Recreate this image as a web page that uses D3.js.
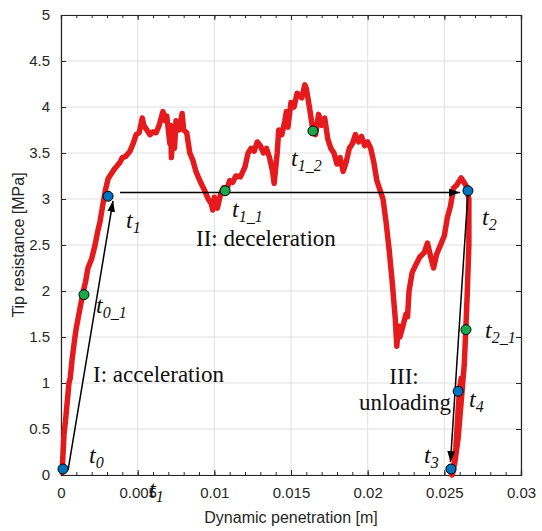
<!DOCTYPE html>
<html>
<head>
<meta charset="utf-8">
<script src="https://d3js.org/d3.v7.min.js"></script>
<style>
  body { margin: 0; background: #fff; }
  svg { display: block; }
  .tick text { font-family: Arial, "Liberation Sans", sans-serif; font-size: 15px; fill: #262626; }
  .tick line { stroke: #262626; }
  .domain { stroke: #262626; }
  .lbl { font-family: "Times New Roman", "Liberation Serif", serif; fill: #111; }
</style>
</head>
<body>
<div id="chart"></div>
<script>
// tip resistance record
const penetration = [
  0.00007, 0.0002, 0.0003, 0.00052, 0.0006, 0.00072, 0.00091, 0.001, 0.00117, 0.00143,
  0.0016, 0.00176, 0.002, 0.00222, 0.0024, 0.00254, 0.00274, 0.0029, 0.00307, 0.0033,
  0.0035, 0.00385, 0.004, 0.0042, 0.0045, 0.0047, 0.0049, 0.0051, 0.0053, 0.0054,
  0.0056, 0.0058, 0.006, 0.0062, 0.0064, 0.00665, 0.0068, 0.0069, 0.0071, 0.00715,
  0.0072, 0.0073, 0.0074, 0.0075, 0.0077, 0.0079, 0.008, 0.0082, 0.0084, 0.0086,
  0.0088, 0.009, 0.0092, 0.0094, 0.0096, 0.0098, 0.0099, 0.01, 0.0102, 0.0104,
  0.0106, 0.0108, 0.011, 0.0112, 0.0114, 0.0117, 0.012, 0.0122, 0.0124, 0.0126,
  0.0128, 0.013, 0.0132, 0.0134, 0.0136, 0.0138, 0.0139, 0.0141, 0.0142, 0.0144,
  0.0146, 0.0147, 0.0148, 0.015, 0.0152, 0.0154, 0.0157, 0.0159, 0.016, 0.0162,
  0.0164, 0.0166, 0.0168, 0.017, 0.0172, 0.0174, 0.0176, 0.0178, 0.018, 0.0182,
  0.0184, 0.0186, 0.0188, 0.019, 0.0192, 0.0194, 0.0196, 0.0198, 0.02, 0.0202,
  0.0204, 0.0206, 0.0208, 0.021, 0.0212, 0.0214, 0.0216, 0.0218, 0.0219, 0.022,
  0.0221, 0.0223, 0.0225, 0.0226, 0.0227, 0.0229, 0.0231, 0.0234, 0.0237, 0.0239,
  0.0241, 0.0243, 0.0245, 0.0247, 0.025, 0.0252, 0.0254, 0.0256, 0.0258, 0.0261,
  0.0264, 0.0266, 0.0266, 0.0265, 0.0264, 0.0263, 0.0261, 0.0259, 0.0257, 0.02555,
  0.0255, 0.0256, 0.02575, 0.0259, 0.026, 0.0261, 0.0262
];
const resistance = [
  0.03, 0.45, 0.6, 1.0, 1.05, 1.25, 1.5, 1.6, 1.75, 1.98,
  2.1, 2.25, 2.35, 2.5, 2.65, 2.75, 2.95, 3.1, 3.22, 3.28,
  3.33, 3.4, 3.45, 3.46, 3.52, 3.6, 3.7, 3.72, 3.88, 3.8,
  3.75, 3.7, 3.73, 3.72, 3.8, 3.95, 3.85, 3.9, 3.6, 3.8,
  3.45, 3.75, 3.55, 3.85, 3.75, 3.93, 3.75, 3.72, 3.5, 3.42,
  3.3, 3.22, 3.15, 3.08, 3.0, 2.95, 2.88, 3.02, 2.9, 3.05,
  3.12, 3.1, 3.2, 3.18, 3.25, 3.24, 3.35, 3.5, 3.55, 3.52,
  3.62, 3.58, 3.5, 3.55, 3.45, 3.3, 3.17, 3.5, 3.75, 3.7,
  3.85, 3.95, 3.78, 4.05, 4.0, 4.15, 4.1, 4.24, 4.2, 4.0,
  3.78, 3.7, 3.92, 3.8, 3.88, 3.65, 3.55, 3.5, 3.38, 3.45,
  3.3, 3.4, 3.55, 3.6, 3.7, 3.62, 3.68, 3.58, 3.62, 3.55,
  3.4, 3.2, 3.1, 3.0, 2.75, 2.45, 2.1, 1.7, 1.4, 1.62,
  1.5, 1.62, 1.75, 1.72, 2.0, 2.2, 2.27, 2.37, 2.42, 2.52,
  2.38, 2.25, 2.4, 2.48, 2.6, 2.8, 2.92, 3.12, 3.15, 3.23,
  3.15, 3.0, 2.5, 2.0, 1.58, 1.2, 0.8, 0.4, 0.15, 0.03,
  0.0, 0.05, 0.3, 0.7, 0.95, 1.05, 1.02
];

// characteristic instants
const eventNames = ["t0", "t0_1", "t1", "t1_1", "t1_2", "t2", "t2_1", "t4", "t3"];
const eventX = [0.00013, 0.0015, 0.00307, 0.0107, 0.01643, 0.02654, 0.02641, 0.0259, 0.02543];
const eventY = [0.065, 1.96, 3.03, 3.09, 3.74, 3.09, 1.58, 0.91, 0.065];
const eventKind = ["main", "sub", "main", "sub", "sub", "main", "sub", "main", "main"];

// phase arrows [x1, y1, x2, y2]
const arrows = [
  [0.00046, 0.054, 0.00339, 2.98],
  [0.00385, 3.07, 0.02602, 3.07],
  [0.02654, 3.07, 0.0254, 0.14]
];

const xTicks = [0, 0.005, 0.01, 0.015, 0.02, 0.025, 0.03];
const xTickLabels = ["0", "0.005", "0.01", "0.015", "0.02", "0.025", "0.03"];
const yTicks = [0, 0.5, 1, 1.5, 2, 2.5, 3, 3.5, 4, 4.5, 5];
const yTickLabels = ["0", "0.5", "1", "1.5", "2", "2.5", "3", "3.5", "4", "4.5", "5"];

const W = 542, H = 531;
const m = { left: 61, right: 21, top: 15, bottom: 56 };

const svg = d3.select("#chart").append("svg")
  .attr("width", W).attr("height", H);

const x = d3.scaleLinear().domain([0, 0.03]).range([m.left, W - m.right]);
const y = d3.scaleLinear().domain([0, 5]).range([H - m.bottom, m.top]);
const xMinor = d3.range(0, 31).map(i => i * 0.001);

// grid
svg.append("g").selectAll("line").data(xTicks).enter().append("line")
  .attr("x1", d => x(d)).attr("x2", d => x(d))
  .attr("y1", y(0)).attr("y2", y(5))
  .attr("stroke", "#dfdfdf").attr("stroke-width", 1);
svg.append("g").selectAll("line").data(yTicks).enter().append("line")
  .attr("x1", x(0)).attr("x2", x(0.03))
  .attr("y1", d => y(d)).attr("y2", d => y(d))
  .attr("stroke", "#dfdfdf").attr("stroke-width", 1);

// axes, MATLAB style: ticks inside, box on
const fmtX = d => xTickLabels[xTicks.indexOf(d)];
const fmtY = d => yTickLabels[yTicks.indexOf(d)];

svg.append("g").attr("transform", `translate(0,${y(0)})`)
  .call(d3.axisBottom(x).tickValues(xMinor).tickSize(-3).tickFormat(""));
svg.append("g").attr("transform", `translate(0,${y(0)})`)
  .call(d3.axisBottom(x).tickValues(xTicks).tickSize(-5).tickPadding(12).tickFormat(fmtX));
svg.append("g").attr("transform", `translate(0,${y(5)})`)
  .call(d3.axisTop(x).tickValues(xMinor).tickSize(-3).tickFormat(""));
svg.append("g").attr("transform", `translate(0,${y(5)})`)
  .call(d3.axisTop(x).tickValues(xTicks).tickSize(-5).tickFormat(""));
svg.append("g").attr("transform", `translate(${x(0)},0)`)
  .call(d3.axisLeft(y).tickValues(yTicks).tickSize(-5).tickPadding(11).tickFormat(fmtY));
svg.append("g").attr("transform", `translate(${x(0.03)},0)`)
  .call(d3.axisRight(y).tickValues(yTicks).tickSize(-5).tickFormat(""));

svg.selectAll(".domain").attr("stroke-width", 1.2);

// axis titles
svg.append("text")
  .attr("x", (x(0) + x(0.03)) / 2).attr("y", 523)
  .attr("text-anchor", "middle")
  .style("font-family", "Arial, 'Liberation Sans', sans-serif")
  .style("font-size", "16px").style("fill", "#262626")
  .text("Dynamic penetration [m]");
svg.append("text")
  .attr("transform", `translate(24,${(y(0) + y(5)) / 2}) rotate(-90)`)
  .attr("text-anchor", "middle")
  .style("font-family", "Arial, 'Liberation Sans', sans-serif")
  .style("font-size", "16px").style("fill", "#262626")
  .text("Tip resistance [MPa]");

// the measured curve
const pts = penetration.map((p, i) => [p, resistance[i]]);
svg.append("path")
  .datum(pts)
  .attr("fill", "none")
  .attr("stroke", "#e41a1c")
  .attr("stroke-width", 5.5)
  .attr("stroke-linejoin", "round")
  .attr("stroke-linecap", "round")
  .attr("d", d3.line().x(d => x(d[0])).y(d => y(d[1])));

// arrows
svg.append("defs").append("marker")
  .attr("id", "head")
  .attr("viewBox", "0 0 10 10")
  .attr("refX", 10).attr("refY", 5)
  .attr("markerWidth", 11).attr("markerHeight", 11)
  .attr("markerUnits", "userSpaceOnUse")
  .attr("orient", "auto")
  .append("path").attr("d", "M0,1.5 L10,5 L0,8.5 Z").attr("fill", "#000");

svg.append("g").selectAll("line").data(arrows).enter().append("line")
  .attr("x1", d => x(d[0])).attr("y1", d => y(d[1]))
  .attr("x2", d => x(d[2])).attr("y2", d => y(d[3]))
  .attr("stroke", "#000").attr("stroke-width", 1.5)
  .attr("marker-end", "url(#head)");

// event markers
svg.append("g").selectAll("circle").data(eventNames).enter().append("circle")
  .attr("cx", (d, i) => x(eventX[i]))
  .attr("cy", (d, i) => y(eventY[i]))
  .attr("r", 5)
  .attr("fill", (d, i) => eventKind[i] === "main" ? "#0072bd" : "#19a84a")
  .attr("stroke", "#000").attr("stroke-width", 1);

// time labels: subscript, pixel position
const tLabels = [
  ["0", 89, 463], ["0_1", 96, 313], ["1", 126, 228], ["1_1", 232, 217],
  ["1_2", 291, 166], ["2", 482, 225], ["2_1", 485, 338], ["4", 469, 407],
  ["3", 424, 463], ["1", 149, 497]
];
tLabels.forEach(([sub, px, py]) => {
  const t = svg.append("text").attr("class", "lbl")
    .attr("x", px).attr("y", py)
    .style("font-style", "italic").style("font-size", "24px");
  t.append("tspan").text("t");
  t.append("tspan").attr("dy", 5).style("font-size", "16px").text(sub);
});

// phase labels
const phaseLabels = [
  ["I: acceleration", 93, 382, "start"],
  ["II: deceleration", 196, 246, "start"],
  ["III:", 404, 384, "middle"],
  ["unloading", 405, 410, "middle"]
];
phaseLabels.forEach(([txt, px, py, anchor]) => {
  svg.append("text").attr("class", "lbl")
    .attr("x", px).attr("y", py)
    .attr("text-anchor", anchor)
    .style("font-size", "23px")
    .text(txt);
});
</script>
</body>
</html>
